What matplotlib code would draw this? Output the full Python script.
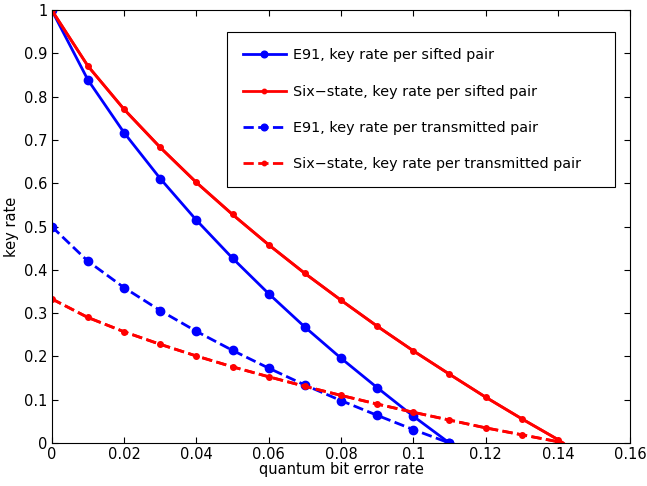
import matplotlib
matplotlib.use("Agg")
import matplotlib.pyplot as plt

qber_e91 = [0, 0.01, 0.02, 0.03, 0.04, 0.05, 0.06, 0.07, 0.08, 0.09, 0.10, 0.11]
e91_sifted = [1.0, 0.839, 0.717, 0.611, 0.515, 0.427, 0.345, 0.268, 0.196, 0.128, 0.062, 0.0]
e91_trans = [0.5, 0.42, 0.359, 0.306, 0.258, 0.214, 0.173, 0.134, 0.098, 0.064, 0.031, 0.0]

qber_six = [0, 0.01, 0.02, 0.03, 0.04, 0.05, 0.06, 0.07, 0.08, 0.09, 0.10, 0.11, 0.12, 0.13, 0.14]
six_sifted = [1.0, 0.871, 0.771, 0.683, 0.602, 0.528, 0.458, 0.392, 0.330, 0.270, 0.213, 0.159, 0.106, 0.056, 0.008]
six_trans = [0.333, 0.290, 0.257, 0.228, 0.201, 0.176, 0.153, 0.131, 0.110, 0.090, 0.071, 0.053, 0.035, 0.019, 0.003]
six_end_x = 0.1415

labels = ["E91, key rate per sifted pair",
          "Six\u2212state, key rate per sifted pair",
          "E91, key rate per transmitted pair",
          "Six\u2212state, key rate per transmitted pair"]

fig = plt.figure(figsize=(6.47, 4.86), dpi=100)
ax = fig.add_axes([0.080, 0.0885, 0.894, 0.8905])

ax.plot(qber_e91, e91_sifted, '-o', color='blue', lw=2, ms=6, label=labels[0])
ax.plot(qber_six + [six_end_x], six_sifted + [0.0], '-', color='red', lw=2)
ax.plot(qber_six, six_sifted, '-', color='red', lw=2, marker='o', ms=4, label=labels[1])
ax.plot(qber_e91, e91_trans, '--o', color='blue', lw=2, ms=6, label=labels[2])
ax.plot(qber_six + [six_end_x], six_trans + [0.0], '--', color='red', lw=2)
ax.plot(qber_six, six_trans, '--', color='red', lw=2, marker='o', ms=4, label=labels[3])

ax.set_xlim(0, 0.16)
ax.set_ylim(0, 1)
ax.set_xticks([0, 0.02, 0.04, 0.06, 0.08, 0.1, 0.12, 0.14, 0.16])
ax.set_xticklabels(["0", "0.02", "0.04", "0.06", "0.08", "0.1", "0.12", "0.14", "0.16"])
ax.set_yticks([0, 0.1, 0.2, 0.3, 0.4, 0.5, 0.6, 0.7, 0.8, 0.9, 1])
ax.set_yticklabels(["0", "0.1", "0.2", "0.3", "0.4", "0.5", "0.6", "0.7", "0.8", "0.9", "1"])
ax.tick_params(direction='in', top=True, right=True, labelsize=10.5, length=4, pad=3)
ax.set_xlabel("quantum bit error rate", fontsize=10.5, labelpad=0)
ax.set_ylabel("key rate", fontsize=10.5, labelpad=4)

leg = ax.legend(loc='upper left', bbox_to_anchor=(0.3028, 0.939, 0.671, 0.01), mode='expand',
                fontsize=10.4, fancybox=False, edgecolor='black', framealpha=1,
                borderpad=1.1, labelspacing=1.55, handlelength=3.0, handletextpad=0.5,
                borderaxespad=0, markerscale=0.8)
leg.get_frame().set_linewidth(0.8)

fig.savefig("out.png", dpi=100)
